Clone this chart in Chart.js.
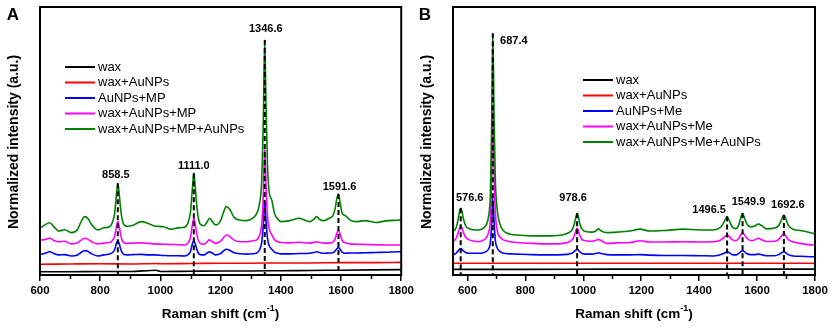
<!DOCTYPE html>
<html>
<head>
<meta charset="utf-8">
<script src="https://cdn.jsdelivr.net/npm/chart.js@4.4.1/dist/chart.umd.min.js"></script>
<style>
  html, body { margin: 0; padding: 0; background: #fff; }
  #wrap { position: relative; width: 835px; height: 330px; }
  canvas { position: absolute; top: 0; }
  #chartA { left: 0; }
  #chartB { left: 417px; }
</style>
</head>
<body>
<div id="wrap">
  <canvas id="chartA" width="417" height="330"></canvas>
  <canvas id="chartB" width="418" height="330"></canvas>
</div>
<script>
// ---- panel A : MP ----
const shiftA = [600, 615, 632, 648, 662, 682, 704, 725, 735, 748, 760, 770, 792, 812, 831, 840, 848, 854, 858.5, 863,
  869, 877, 890, 910, 936, 960, 980, 1010, 1035, 1060, 1080, 1090, 1100, 1106, 1111, 1116, 1122, 1132, 1145, 1155,
  1163, 1172, 1184, 1200, 1210, 1219, 1230, 1245, 1265, 1285, 1307, 1320, 1330, 1337, 1342, 1346.6, 1351, 1356, 1362, 1370,
  1379, 1390, 1401, 1430, 1462, 1495, 1510, 1519, 1530, 1545, 1561, 1572, 1580, 1586, 1591.6, 1597, 1604, 1614, 1630, 1650,
  1680, 1716, 1750, 1793, 1800];
const greenA = [17.5, 18.6, 19.5, 17.8, 16.4, 16.9, 15.8, 17.0, 19.5, 21.8, 21.0, 19.0, 16.8, 17.6, 18.0, 19.5, 23.0, 30.0, 34.2, 30.5,
  23.5, 19.2, 18.2, 18.6, 19.9, 19.2, 18.3, 18.0, 17.1, 17.6, 17.8, 19.0, 23.5, 32.0, 38.0, 32.5, 24.5, 19.0, 18.4, 19.8,
  21.2, 20.0, 18.7, 20.3, 23.5, 25.5, 24.5, 21.5, 20.4, 20.3, 21.2, 23.0, 27.0, 36.0, 58.0, 87.7, 62.0, 40.0, 30.5, 28.0,
  23.0, 20.8, 19.9, 20.3, 21.2, 19.9, 20.8, 21.8, 20.6, 20.3, 21.2, 22.0, 24.5, 28.5, 30.2, 27.0, 23.0, 22.2, 20.5, 19.9,
  20.3, 19.6, 20.2, 20.5, 20.6];
const pinkA = [13.0, 13.2, 13.7, 12.8, 12.4, 12.6, 11.6, 12.0, 12.9, 13.7, 13.3, 12.5, 11.6, 11.9, 12.1, 12.8, 14.5, 18.0, 19.9, 18.2,
  14.5, 12.2, 11.8, 11.9, 12.0, 11.8, 11.6, 11.5, 11.4, 11.3, 11.2, 11.8, 14.0, 18.5, 21.2, 18.8, 14.5, 11.8, 11.5, 12.4,
  13.1, 12.5, 11.8, 12.6, 14.0, 14.9, 14.4, 13.0, 12.4, 12.4, 12.8, 13.1, 15.0, 19.5, 30.0, 47.4, 33.0, 21.5, 17.0, 15.0,
  13.2, 12.4, 12.1, 12.0, 12.2, 11.9, 12.2, 12.4, 12.1, 11.9, 11.9, 12.2, 13.3, 15.5, 16.8, 15.2, 12.8, 12.0, 11.6, 11.5,
  11.4, 11.3, 11.2, 11.2, 11.2];
const blueA = [7.6, 8.0, 8.7, 7.9, 7.5, 7.6, 7.1, 7.5, 8.3, 9.1, 8.8, 8.0, 7.1, 7.5, 7.8, 8.3, 9.5, 11.8, 12.8, 11.8,
  9.3, 7.8, 7.5, 7.6, 7.7, 7.5, 7.5, 7.3, 7.2, 7.2, 7.1, 7.5, 8.8, 11.5, 12.8, 11.6, 9.2, 7.6, 7.5, 8.2,
  8.7, 8.2, 7.5, 8.0, 9.0, 9.6, 9.2, 8.3, 7.9, 7.8, 7.9, 8.2, 9.5, 12.5, 19.0, 27.4, 20.0, 13.5, 10.8, 9.6,
  8.5, 8.1, 7.9, 7.9, 8.0, 8.1, 8.4, 8.7, 8.3, 8.1, 8.2, 8.3, 8.9, 9.8, 10.2, 9.6, 8.5, 8.1, 8.2, 8.2,
  8.3, 8.4, 8.5, 8.7, 8.7];
const shiftFlatA = [600, 700, 800, 900, 985, 1000, 1100, 1200, 1300, 1400, 1500, 1600, 1700, 1800];
const redA = [4.0, 4.1, 4.2, 4.1, 4.3, 4.2, 4.3, 4.4, 4.4, 4.5, 4.5, 4.6, 4.6, 4.7];
const blackA = [1.2, 1.2, 1.3, 1.3, 1.8, 1.3, 1.4, 1.5, 1.5, 1.6, 1.7, 1.8, 1.9, 2.0];
const peaksA = [858.5, 1111.0, 1346.6, 1591.6];
const peakTopsA = [34.2, 38.0, 87.7, 30.2];
const peakTextA = ['858.5', '1111.0', '1346.6', '1591.6'];
const namesA = ['wax', 'wax+AuNPs', 'AuNPs+MP', 'wax+AuNPs+MP', 'wax+AuNPs+MP+AuNPs'];

// ---- panel B : Me ----
const shiftB = [550, 557, 562, 568, 573, 576.6, 580, 586, 594, 605, 620, 640, 655, 665, 673, 679, 683, 687.4, 692, 696,
  703, 712, 724, 745, 770, 820, 885, 930, 950, 962, 970, 975, 978.6, 982, 987, 995, 1008, 1030, 1043, 1052,
  1062, 1081, 1120, 1161, 1196, 1230, 1280, 1345, 1400, 1449, 1468, 1480, 1489, 1496.5, 1504, 1514, 1527, 1537, 1545, 1549.9,
  1555, 1564, 1578, 1592, 1604, 1618, 1633, 1660, 1675, 1685, 1692.6, 1699, 1708, 1725, 1750, 1794, 1800];
const greenB = [16.4, 16.9, 18.0, 21.0, 24.0, 24.9, 24.2, 21.0, 18.3, 17.3, 16.9, 16.8, 17.5, 18.8, 22.0, 30.0, 52.0, 90.2, 58.0, 36.0,
  24.0, 19.0, 16.5, 15.3, 14.9, 14.6, 14.6, 15.0, 15.8, 17.0, 19.5, 22.0, 23.0, 22.2, 19.5, 17.2, 16.2, 16.0, 16.4, 17.2,
  16.4, 15.8, 16.0, 16.4, 17.1, 16.4, 16.6, 17.1, 16.8, 16.8, 17.4, 18.6, 20.5, 21.8, 20.3, 18.0, 17.3, 18.8, 21.8, 23.0,
  21.8, 19.2, 18.0, 18.3, 19.0, 18.3, 17.2, 17.5, 18.5, 20.8, 22.4, 21.0, 18.5, 17.0, 16.6, 15.5, 15.4];
const pinkB = [12.8, 13.1, 14.0, 15.8, 17.6, 18.3, 17.8, 15.8, 14.0, 13.2, 12.7, 12.4, 13.0, 13.9, 16.0, 20.5, 34.0, 62.3, 38.0, 24.0,
  16.5, 14.2, 13.1, 12.5, 12.1, 11.8, 11.6, 11.8, 12.3, 13.2, 15.0, 16.8, 17.4, 16.8, 15.0, 13.3, 12.8, 12.6, 12.9, 13.3,
  12.8, 11.8, 12.0, 12.1, 12.8, 12.3, 12.3, 12.4, 12.3, 12.4, 12.8, 13.5, 14.4, 14.9, 14.3, 13.2, 12.8, 13.8, 15.2, 15.8,
  15.2, 13.8, 12.9, 13.1, 13.7, 13.1, 12.5, 12.6, 13.3, 14.7, 15.5, 14.6, 13.2, 12.3, 11.8, 11.2, 11.2];
const blueB = [7.7, 7.8, 8.3, 9.0, 9.7, 9.9, 9.7, 9.0, 8.4, 8.1, 8.1, 8.1, 8.3, 8.8, 9.8, 12.0, 18.0, 28.6, 19.5, 13.0,
  10.0, 8.8, 8.1, 7.9, 7.8, 7.6, 7.5, 7.6, 7.8, 8.2, 8.9, 9.4, 9.6, 9.4, 8.8, 8.0, 7.8, 7.8, 8.0, 8.3,
  8.0, 7.6, 7.5, 7.5, 7.6, 7.4, 7.3, 7.3, 7.2, 7.1, 7.4, 7.8, 8.3, 8.7, 8.3, 7.6, 7.5, 8.1, 8.8, 9.1,
  8.8, 8.0, 7.6, 7.6, 7.8, 7.5, 7.2, 7.2, 7.6, 8.3, 8.7, 8.3, 7.6, 7.1, 7.0, 6.8, 6.8];
const shiftFlatB = [550, 800, 1100, 1400, 1800];
const redB = [4.4, 4.4, 4.4, 4.4, 4.4];
const blackB = [2.1, 2.1, 2.2, 2.2, 2.2];
const peaksB = [576.6, 687.4, 978.6, 1496.5, 1549.9, 1692.6];
const peakTopsB = [24.9, 90.2, 23.0, 21.8, 23.0, 22.4];
const peakTextB = ['576.6', '687.4', '978.6', '1496.5', '1549.9', '1692.6'];
const namesB = ['wax', 'wax+AuNPs', 'AuNPs+Me', 'wax+AuNPs+Me', 'wax+AuNPs+Me+AuNPs'];

const COLORS = ['#000000', '#ff0000', '#0000ff', '#ff00ff', '#008000'];
const FONT = "'Liberation Sans', Arial, sans-serif";

const pairs = (xs, ys) => xs.map((x, i) => ({ x: x, y: ys[i] }));

function spectrum(xs, ys, color, order) {
  return {
    data: pairs(xs, ys),
    borderColor: color,
    borderWidth: 1.6,
    pointRadius: 0,
    cubicInterpolationMode: 'monotone',
    order: order
  };
}

function peakLines(peaks, tops) {
  return peaks.map((p, i) => ({
    data: [{ x: p, y: tops[i] }, { x: p, y: 0 }],
    borderColor: '#000',
    borderWidth: 2,
    borderDash: [5, 3],
    pointRadius: 0,
    order: 0
  }));
}

// frame, labels, legend, titles
const panelDecor = {
  id: 'panelDecor',
  afterDraw(chart, args, o) {
    const { ctx, chartArea: a, scales: { x, y } } = chart;
    ctx.save();
    ctx.strokeStyle = '#000';
    ctx.fillStyle = '#000';

    ctx.lineWidth = 2;
    ctx.strokeRect(a.left, a.top, a.right - a.left, a.bottom - a.top);

    // minor ticks
    ctx.lineWidth = 1.5;
    for (let v = o.minorStart; v < x.max; v += 200) {
      const px = Math.round(x.getPixelForValue(v)) + 0.5;
      ctx.beginPath();
      ctx.moveTo(px, a.bottom);
      ctx.lineTo(px, a.bottom + 4);
      ctx.stroke();
    }

    // peak labels
    ctx.font = 'bold 11px ' + FONT;
    ctx.textAlign = 'center';
    ctx.textBaseline = 'middle';
    o.peaks.forEach((p, i) => {
      ctx.fillText(o.texts[i], x.getPixelForValue(p) + o.dx[i], y.getPixelForValue(o.tops[i]) + o.dy[i]);
    });

    // legend
    ctx.font = '13px ' + FONT;
    ctx.textAlign = 'left';
    ctx.lineWidth = 2;
    o.names.forEach((n, i) => {
      const ly = a.top + o.legendY + i * 15.5;
      const lx = a.left + o.legendX;
      ctx.strokeStyle = COLORS[i];
      ctx.beginPath();
      ctx.moveTo(lx, ly);
      ctx.lineTo(lx + 30, ly);
      ctx.stroke();
      ctx.fillText(n, lx + 33, ly);
    });

    // panel letter
    ctx.font = 'bold 17px ' + FONT;
    ctx.textAlign = 'center';
    ctx.fillText(o.letter, o.letterX, 15);

    // y title
    ctx.save();
    ctx.translate(o.yTitleX, (a.top + a.bottom) / 2 + 1);
    ctx.rotate(-Math.PI / 2);
    ctx.font = 'bold 14px ' + FONT;
    ctx.fillText('Normalized intensity (a.u.)', 0, 0);
    ctx.restore();

    // x title with superscript
    const t1 = 'Raman shift (cm', sup = '-1', t2 = ')';
    ctx.font = 'bold 13.5px ' + FONT;
    const w1 = ctx.measureText(t1).width, w3 = ctx.measureText(t2).width;
    ctx.font = 'bold 9px ' + FONT;
    const w2 = ctx.measureText(sup).width;
    const tx = (a.left + a.right) / 2 - (w1 + w2 + w3) / 2;
    const ty = 314;
    ctx.textAlign = 'left';
    ctx.font = 'bold 13.5px ' + FONT;
    ctx.fillText(t1, tx, ty);
    ctx.font = 'bold 9px ' + FONT;
    ctx.fillText(sup, tx + w1, ty - 5);
    ctx.font = 'bold 13.5px ' + FONT;
    ctx.fillText(t2, tx + w1 + w2, ty);
    ctx.restore();
  }
};

function makeChart(id, xMin, padding, datasets, decor) {
  return new Chart(document.getElementById(id), {
    type: 'line',
    data: { datasets: datasets },
    plugins: [panelDecor],
    options: {
      responsive: false,
      animation: false,
      devicePixelRatio: 1,
      layout: { padding: padding },
      plugins: { legend: { display: false }, tooltip: { enabled: false }, panelDecor: decor },
      scales: {
        x: {
          type: 'linear',
          min: xMin,
          max: 1800,
          ticks: {
            stepSize: 200,
            includeBounds: false,
            color: '#000',
            padding: 3,
            font: { family: FONT, size: 11.5, weight: 'bold' },
            callback: (v) => String(v)
          },
          grid: { drawOnChartArea: false, tickLength: 6, color: '#000', lineWidth: 1.5 },
          border: { display: false },
          afterFit: (s) => { s.height = 55; }
        },
        y: { display: false, min: 0, max: 100 }
      }
    }
  });
}

makeChart('chartA', 600, { left: 40, right: 15, top: 7, bottom: 0 },
  peakLines(peaksA, peakTopsA).concat([
    spectrum(shiftA, greenA, COLORS[4], 1),
    spectrum(shiftA, pinkA, COLORS[3], 2),
    spectrum(shiftA, blueA, COLORS[2], 3),
    spectrum(shiftFlatA, redA, COLORS[1], 4),
    spectrum(shiftFlatA, blackA, COLORS[0], 5)
  ]),
  {
    letter: 'A', letterX: 13, yTitleX: 14, minorStart: 700,
    peaks: peaksA, tops: peakTopsA, texts: peakTextA,
    dx: [-2, 0, 1, 1], dy: [-8, -7, -11, -7],
    names: namesA, legendX: 25, legendY: 60
  });

makeChart('chartB', 550, { left: 36, right: 20, top: 7, bottom: 0 },
  peakLines(peaksB, peakTopsB).concat([
    spectrum(shiftB, greenB, COLORS[4], 1),
    spectrum(shiftB, pinkB, COLORS[3], 2),
    spectrum(shiftB, blueB, COLORS[2], 3),
    spectrum(shiftFlatB, redB, COLORS[1], 4),
    spectrum(shiftFlatB, blackB, COLORS[0], 5)
  ]),
  {
    letter: 'B', letterX: 8, yTitleX: 10, minorStart: 700,
    peaks: peaksB, tops: peakTopsB, texts: peakTextB,
    dx: [9, 21, -4, -18, 6, 4], dy: [-10, 8, -15, -7, -11, -10],
    names: namesB, legendX: 130, legendY: 73
  });
</script>
</body>
</html>
